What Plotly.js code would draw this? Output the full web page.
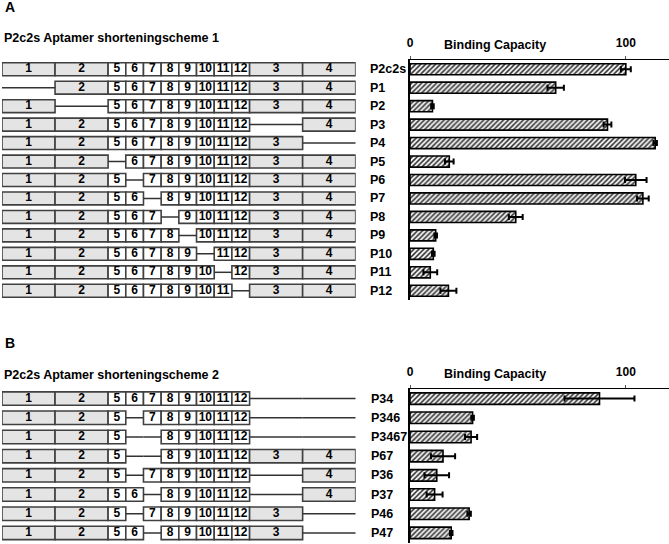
<!DOCTYPE html>
<html><head><meta charset="utf-8">
<script src="https://cdn.plot.ly/plotly-3.0.1.min.js"></script>
<style>body{margin:0;background:#fff;} #chart{width:669px;height:544px;}</style>
</head><body><div id="chart"></div>
<script>
// ---- data ----
const segmentNames = ['1','2','5','6','7','8','9','10','11','12','3','4'];
const segmentLengths = [3,3,1,1,1,1,1,1,1,1,3,3];

const constructsA = ['P2c2s','P1','P2','P3','P4','P5','P6','P7','P8','P9','P10','P11','P12'];
const missingA = [[],['1'],['2'],['3'],['4'],['5'],['6'],['7'],['8'],['9'],['10'],['11'],['12']];
const bindingA = [100,67.5,10.4,91.5,113.6,18.2,104.6,107.9,49,11.9,10.8,9.4,17.8];
const errorA = [2.3,3.8,0.6,1.8,0.8,2,5,2.7,3.2,0.6,0.6,3.2,3.7];

const constructsB = ['P34','P346','P3467','P67','P36','P37','P46','P47'];
const missingB = [['3','4'],['3','4','6'],['3','4','6','7'],['6','7'],['3','6'],['3','7'],['4','6'],['4','7']];
const bindingB = [87.8,29,28.3,15.3,12.4,11.4,27.4,19.1];
const errorB = [16.2,0.6,2.8,5.6,5.7,3.7,0.8,0.6];

const axisTicks = [0,100];
const axisTickText = ['0','100'];

// ---- helpers ----
const FONT = 'Liberation Sans, Arial, sans-serif';
const W = 669, H = 544;
const px = v => v / W;
const py = v => 1 - v / H;

const starts = [];
segmentLengths.reduce((acc, l, i) => { starts[i] = acc; return acc + l; }, 0);
const total = segmentLengths.reduce((a, b) => a + b, 0);

function schematicTraces(constructs, missing, xa, ya) {
  const traces = [];
  const lx = [], ly = [];
  constructs.forEach((c, r) => {
    missing[r].forEach(m => {
      const i = segmentNames.indexOf(m);
      lx.push(starts[i], starts[i] + segmentLengths[i], null);
      ly.push(c, c, null);
    });
  });
  traces.push({type:'scatter', mode:'lines', x:lx, y:ly, xaxis:xa, yaxis:ya,
    line:{color:'#333', width:1.5}, hoverinfo:'skip'});
  segmentNames.forEach((s, i) => {
    const ys = constructs.filter((c, r) => !missing[r].includes(s));
    traces.push({type:'bar', orientation:'h', y:ys,
      x:ys.map(() => segmentLengths[i]), base:ys.map(() => starts[i]),
      xaxis:xa, yaxis:ya, width:0.7,
      marker:{color: segmentLengths[i] > 1 ? '#e4e4e4' : '#ffffff', line:{color:'#404040', width:1.6}},
      hoverinfo:'skip'});
    traces.push({type:'scatter', mode:'text', y:ys,
      x:ys.map(() => starts[i] + segmentLengths[i] / 2),
      text:ys.map(() => s), xaxis:xa, yaxis:ya, cliponaxis:false,
      textfont:{family:FONT, size:12, color:'#000', weight:700}, hoverinfo:'skip'});
  });
  return traces;
}

function barTrace(constructs, vals, errs, xa, ya) {
  return {type:'bar', orientation:'h', x:vals, y:constructs, xaxis:xa, yaxis:ya, width:0.6,
    marker:{color:'#ffffff', line:{color:'#000', width:1.6},
      pattern:{shape:'/', fgcolor:'#333', bgcolor:'#f4f4f4', size:3.5, solidity:0.45}},
    error_x:{type:'data', array:errs, visible:true, color:'#000', thickness:2, width:3},
    hoverinfo:'skip'};
}

const traces = [
  ...schematicTraces(constructsA, missingA, 'x', 'y'),
  barTrace(constructsA, bindingA, errorA, 'x2', 'y2'),
  ...schematicTraces(constructsB, missingB, 'x3', 'y3'),
  barTrace(constructsB, bindingB, errorB, 'x4', 'y4')
];

const domA = [py(300), py(60)];
const domB = [py(542.5), py(389)];
const schemDomX = [px(2), px(355.7)];
const barDomX = [px(410), 1];

function schemX(anchor) {
  return {domain:schemDomX, range:[0,total], visible:false, anchor:anchor, fixedrange:true};
}
function schemY(anchor, cats, dom) {
  return {domain:dom, type:'category', categoryarray:cats, categoryorder:'array',
    range:[cats.length - 0.5, -0.5], visible:false, anchor:anchor};
}
function barX(anchor) {
  return {domain:barDomX, range:[0,120], side:'top', anchor:anchor,
    showline:true, linecolor:'#000', linewidth:1, showgrid:false, zeroline:false,
    tickmode:'array', tickvals:axisTicks, ticktext:axisTickText, ticks:'outside', ticklen:3,
    tickcolor:'#555', ticklabelstandoff:4,
    tickfont:{family:FONT, size:12, color:'#000', weight:700}};
}
function barY(anchor, cats, dom) {
  return {domain:dom, type:'category', categoryarray:cats, categoryorder:'array',
    range:[cats.length - 0.5, -0.5], anchor:anchor, showline:true, linecolor:'#000', linewidth:1.6,
    showticklabels:false, ticks:'', showgrid:false, zeroline:false};
}

const annotations = [];
function txt(text, x, y, yref, size, extra) {
  annotations.push(Object.assign({text:text, x:x, y:y, xref:'paper', yref:yref, showarrow:false,
    xanchor:'left', yanchor:'middle', font:{family:FONT, size:size, color:'#000', weight:700}}, extra || {}));
}
txt('A', px(3), py(7), 'paper', 14);
txt('B', px(3), py(343), 'paper', 14);
txt('P2c2s Aptamer shorteningscheme 1', px(2), py(38), 'paper', 12.5);
txt('P2c2s Aptamer shorteningscheme 2', px(2), py(375), 'paper', 12.5);
txt('Binding Capacity', px(495), py(45), 'paper', 12.5, {xanchor:'center'});
txt('Binding Capacity', px(495), py(374), 'paper', 12.5, {xanchor:'center'});
constructsA.forEach(c => txt(c, px(368), c, 'y', 12.5));
constructsB.forEach(c => txt(c, px(369), c, 'y3', 12.5));

const layout = {
  width:W, height:H, margin:{l:0, r:0, t:0, b:0}, showlegend:false,
  paper_bgcolor:'#fff', plot_bgcolor:'rgba(0,0,0,0)', barmode:'overlay',
  font:{family:FONT},
  xaxis:schemX('y'), yaxis:schemY('x', constructsA, domA),
  xaxis2:barX('y2'), yaxis2:barY('x2', constructsA, domA),
  xaxis3:schemX('y3'), yaxis3:schemY('x3', constructsB, domB),
  xaxis4:barX('y4'), yaxis4:barY('x4', constructsB, domB),
  annotations:annotations
};

Plotly.newPlot('chart', traces, layout, {staticPlot:true, displayModeBar:false});
</script>
</body></html>
